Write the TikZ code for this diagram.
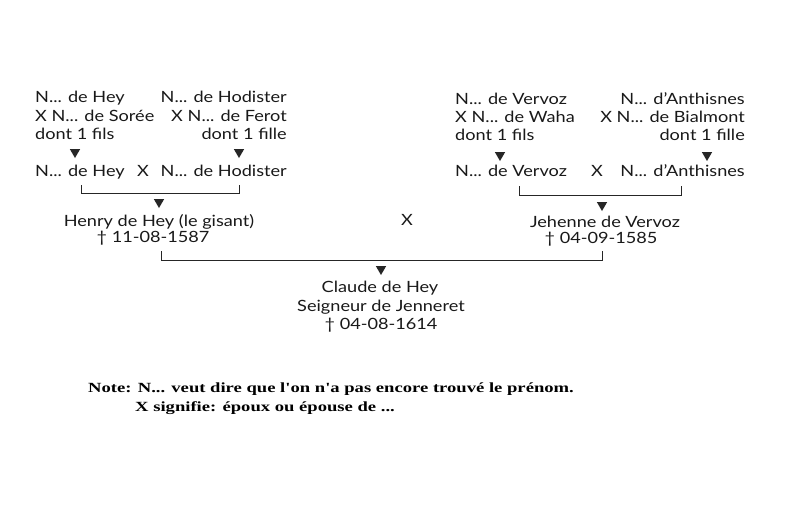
\documentclass[tikz,border=0pt]{standalone}
\usepackage{fontspec}
\setmainfont{Lato}[FakeStretch=1.17]
\newfontfamily\notefont{Liberation Serif}[FakeStretch=1.33]
\usetikzlibrary{shapes.geometric}
\begin{document}
\begin{tikzpicture}[x=1pt,y=-1pt,
  txt/.style={inner sep=0pt,text=black!90,font=\fontsize{15.5}{18}\selectfont},
  lt/.style={txt,anchor=base west},
  rt/.style={txt,anchor=base east},
  ct/.style={txt,anchor=base},
  tri/.style={regular polygon,regular polygon sides=3,shape border rotate=180,fill=black!85,draw=none,minimum size=12pt,inner sep=0pt},
  note/.style={inner sep=0pt,anchor=base west,font=\notefont\bfseries\fontsize{14}{16}\selectfont},
  brk/.style={line width=0.8pt,black!85}]
\useasboundingbox (0,0) rectangle (800,523);
\fill[white] (0,0) rectangle (800,523);
% left grandparents
\node[lt] (a1) at (35,102) {N... de Hey};
\node[lt] (a2) at (35,121) {X N... de Sorée};
\node[lt] (a3) at (35,139) {dont 1 fils};
\node[rt] (b1) at (287,102) {N... de Hodister};
\node[rt] (b2) at (287,121) {X N... de Ferot};
\node[rt] (b3) at (287,139) {dont 1 fille};
\node[tri] (ta) at (75,152) {};
\node[tri] (tb) at (239,152) {};
\node[lt] (c1) at (35,176) {N... de Hey};
\node[ct] (cx) at (143,176) {X};
\node[rt] (c2) at (287,176) {N... de Hodister};
\coordinate (k1) at (81,185);
\coordinate (k2) at (239,185);
\draw[brk] (k1) -- ++(0,8) -| (k2);
\node[tri] (th) at (159,202) {};
% right grandparents
\node[lt] (d1) at (455,104) {N... de Vervoz};
\node[lt] (d2) at (455,122) {X N... de Waha};
\node[lt] (d3) at (455,140) {dont 1 fils};
\node[rt] (e1) at (745,104) {N... d'Anthisnes};
\node[rt] (e2) at (745,122) {X N... de Bialmont};
\node[rt] (e3) at (745,140) {dont 1 fille};
\node[tri] (td) at (500,155) {};
\node[tri] (te) at (707,155) {};
\node[lt] (f1) at (455,176) {N... de Vervoz};
\node[ct] (fx) at (597,176) {X};
\node[rt] (f2) at (745,176) {N... d'Anthisnes};
\coordinate (k3) at (519,186);
\coordinate (k4) at (681,186);
\draw[brk] (k3) -- ++(0,9) -| (k4);
\node[tri] (tj) at (602,205) {};
% parents
\node[ct] (h1) at (159,226) {Henry de Hey (le gisant)};
\node[ct] (h2) at (153,242) {† 11-08-1587};
\node[ct] (mx) at (407,225) {X};
\node[ct] (j1) at (605,227) {Jehenne de Vervoz};
\node[ct] (j2) at (601,243) {† 04-09-1585};
\coordinate (k5) at (161,251);
\coordinate (k6) at (602,251);
\draw[brk] (k5) -- ++(0,9) -| (k6);
\node[tri] (tc) at (381,269) {};
% child
\node[ct] (g1) at (380,292) {Claude de Hey};
\node[ct] (g2) at (381,311) {Seigneur de Jenneret};
\node[ct] (g3) at (381,329) {† 04-08-1614};
% note
\node[note] (n1) at (88,392) {Note: N... veut dire que l'on n'a pas encore trouvé le prénom.};
\node[note] (n2) at (135,411) {X signifie: époux ou épouse de ...};
\end{tikzpicture}
\end{document}
